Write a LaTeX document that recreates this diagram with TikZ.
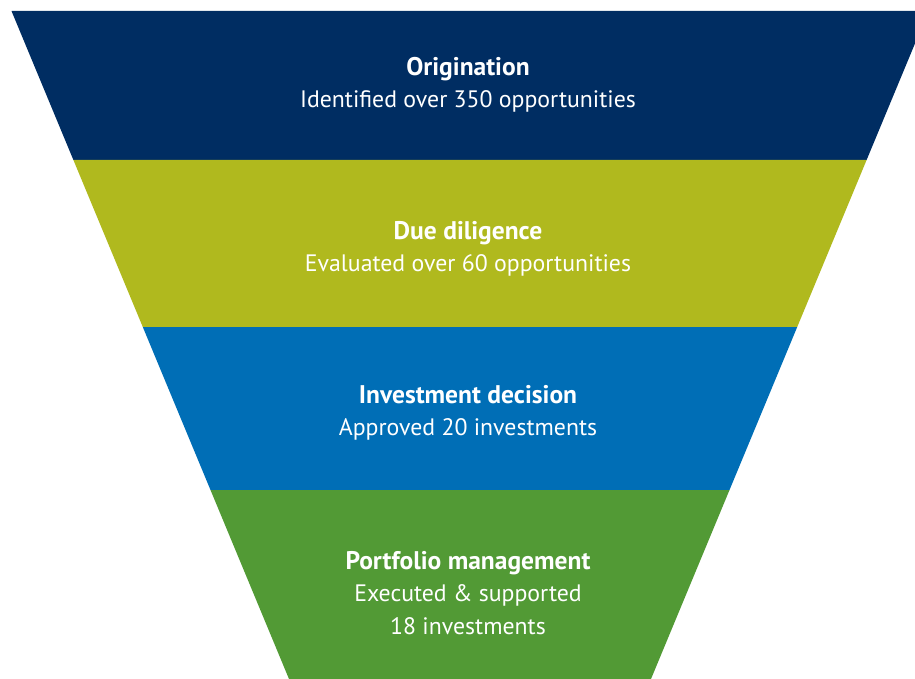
\documentclass[tikz,border=0pt]{standalone}
\usepackage{fontspec}
\setmainfont{PT Sans}
\definecolor{navy}{RGB}{0,45,98}
\definecolor{olive}{RGB}{176,185,30}
\definecolor{midblue}{RGB}{0,110,182}
\definecolor{leaf}{RGB}{82,154,53}
\newcommand{\hd}[1]{{\fontsize{25.5}{32}\selectfont\bfseries #1}}
\begin{document}
\begin{tikzpicture}[x=1pt,y=-1pt,
  lbl/.style={text=white,align=center,font=\fontsize{23.8}{32.5}\selectfont}]
\useasboundingbox (0,0) rectangle (915,679);
\clip (0,0) rectangle (915,679);
\fill[navy] (11.5,11) -- (928.5,11) -- (866.6,160) -- (73.4,160) -- cycle;
\fill[olive] (73.4,160) -- (866.6,160) -- (797.2,327) -- (142.8,327) -- cycle;
\fill[midblue] (142.8,327) -- (797.2,327) -- (729.5,490) -- (210.5,490) -- cycle;
\fill[leaf] (210.5,490) -- (729.5,490) -- (651,679) -- (289,679) -- cycle;
\node[lbl] (orig) at (468,85) {\hd{Origination}\\Identified over 350 opportunities};
\node[lbl] (due) at (468,249) {\hd{Due diligence}\\Evaluated over 60 opportunities};
\node[lbl] (inv) at (468,413) {\hd{Investment decision}\\Approved 20 investments};
\node[lbl] (port) at (468,593) {\hd{Portfolio management}\\Executed \& supported\\18 investments};
\end{tikzpicture}
\end{document}
